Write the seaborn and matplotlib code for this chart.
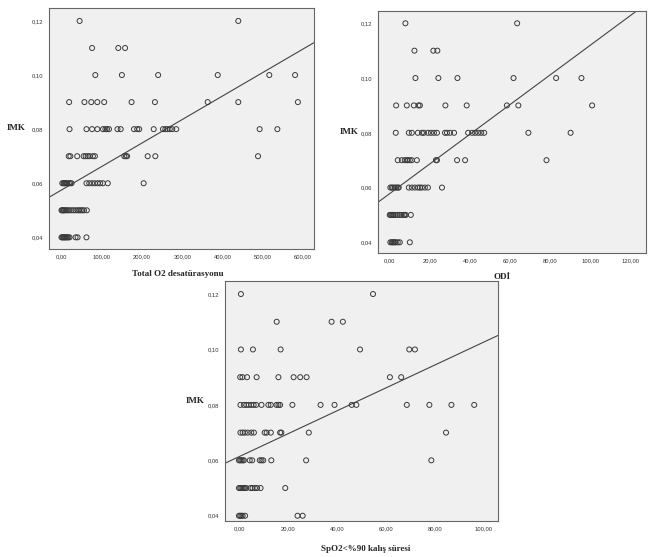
import matplotlib
matplotlib.use("Agg")
import matplotlib.pyplot as plt
import pandas as pd
import seaborn as sns

# IMK levels (rows of points) shared by all three panels
imk_levels = [0.04, 0.05, 0.06, 0.07, 0.08, 0.09, 0.10, 0.11, 0.12]

# Total O2 desaturation values, one list per IMK level
o2_x = [
    [0, 2, 4, 6, 8, 10, 12, 14, 17, 20, 35, 40, 62],
    [0, 2, 4, 6, 9, 12, 16, 20, 25, 30, 35, 40, 44, 48, 52, 56, 63],
    [2, 5, 7, 9, 11, 14, 18, 22, 25, 62, 69, 76, 83, 90, 96, 103, 115, 204],
    [18, 22, 39, 55, 60, 65, 70, 78, 83, 156, 160, 163, 214, 233, 488],
    [20, 62, 76, 89, 103, 109, 113, 118, 139, 147, 180, 188, 193, 229,
     252, 258, 263, 269, 275, 285, 492, 536],
    [19, 57, 74, 89, 106, 174, 232, 363, 439, 587],
    [84, 150, 240, 388, 516, 580],
    [76, 141, 158],
    [45, 439],
]

# ODI values
odi_x = [
    [0.3, 1, 1.5, 2, 2.5, 3, 4, 5, 10],
    [0, 0.5, 1, 1.5, 2, 3, 4, 5, 6, 7, 7.5, 8, 10.5],
    [0.3, 1, 1.7, 2.5, 3.2, 4, 4.5, 9.5, 11, 12.5, 14, 15, 16, 17.5, 19, 26],
    [4, 6, 7.5, 8.5, 9, 10, 11, 13.5, 23, 23.5, 33.5, 37.5, 78],
    [3, 9.5, 11, 14, 16, 17, 19, 20.5, 22, 23.5, 27.5, 28.5, 30, 32,
     39, 41, 42.5, 44, 45.5, 47, 69, 90],
    [3.2, 8.5, 12, 14.3, 15, 27.7, 38.3, 58.3, 64, 100.7],
    [12.8, 24.2, 33.7, 61.6, 82.8, 95.4],
    [12.3, 21.7, 23.7],
    [7.8, 63.4],
]

# SpO2<%90 time values
spo2_x = [
    [0, 0.5, 1, 1.5, 2.5, 23.9, 26],
    [0, 0.5, 1, 1.5, 2, 2.5, 3, 4.7, 5.5, 6.5, 7.4, 8.8, 18.9],
    [0, 0.5, 1, 1.5, 2, 4.4, 5.4, 8.5, 9.2, 9.9, 13.2, 27.4, 78.5],
    [0.6, 1.5, 2.4, 3.6, 5, 6.1, 10.5, 11.3, 13, 16.8, 17.3, 28.5, 84.5],
    [0.6, 2, 3, 4, 5, 6, 7, 9.2, 12, 13, 15.3, 16.1, 16.8, 21.8, 33.3,
     39, 46, 47.9, 68.5, 77.7, 86.7, 96],
    [0.5, 1.4, 3.3, 7.2, 16.1, 22.3, 25, 27.6, 61.6, 66.2],
    [0.8, 5.7, 17, 49.4, 69.5, 71.8],
    [15.4, 37.8, 42.4],
    [0.8, 54.7],
]

# fit lines: (intercept, slope)
o2_fit = (0.0575, 8.69e-5)
odi_fit = (0.0578, 5.43e-4)
spo2_fit = (0.0613, 4.14e-4)

x_labels = ["Total O2 desatürasyonu", "ODİ", "SpO2<%90 kalış süresi"]
x_ticks = [[0, 100, 200, 300, 400, 500, 600],
           [0, 20, 40, 60, 80, 100, 120],
           [0, 20, 40, 60, 80, 100]]
y_ticks = [0.04, 0.06, 0.08, 0.10, 0.12]


def to_frame(rows):
    xs, ys = [], []
    for level, vals in zip(imk_levels, rows):
        xs += vals
        ys += [level] * len(vals)
    return pd.DataFrame({"x": xs, "IMK": ys})


def fmt(v):
    return f"{v:.2f}".replace(".", ",")


sns.set_style("white")
plt.rcParams["font.family"] = ["Liberation Sans", "DejaVu Sans"]

fig = plt.figure(figsize=(6.55, 5.57), dpi=100)

panels = [
    # rect, data, fit, xlim, ylim, ylabel x, xlabel pos
    ([0.0748, 0.553, 0.4046, 0.4327], o2_x, o2_fit, (-31, 627), (0.0357, 0.1248), -0.125, (0.487, -0.104)),
    ([0.5766, 0.5463, 0.4096, 0.434], odi_x, odi_fit, (-6, 127.5), (0.0362, 0.1245), -0.105, (0.463, -0.10)),
    ([0.3435, 0.0646, 0.4164, 0.4309], spo2_x, spo2_fit, (-5.7, 105.6), (0.0381, 0.1247), -0.11, (0.515, -0.117)),
]

label_font = dict(family="Liberation Serif", weight="bold", size=6.5)

for i, (rect, rows, fit, xlim, ylim, ylab_x, xlab_pos) in enumerate(panels):
    ax = fig.add_axes(rect)
    ax.set_facecolor("#f0f0f0")
    df = to_frame(rows)
    sns.scatterplot(data=df, x="x", y="IMK", ax=ax, marker="o", s=13,
                    fc="none", ec="#3a3a3a", linewidth=0.7, zorder=3)
    ax.axline((0, fit[0]), slope=fit[1], color="#444444", lw=0.8, zorder=2)
    ax.set_xlim(*xlim)
    ax.set_ylim(*ylim)
    ax.set_xticks(x_ticks[i])
    ax.set_xticklabels([fmt(t) for t in x_ticks[i]])
    ax.set_yticks(y_ticks)
    ax.set_yticklabels([fmt(t) for t in y_ticks])
    ax.tick_params(direction="out", length=2.5, width=0.6, labelsize=4.2,
                   pad=1.5, colors="#333333")
    for sp in ax.spines.values():
        sp.set_color("#666666")
        sp.set_linewidth(0.8)
    ax.set_ylabel("IMK", rotation=0, ha="center", va="center", fontdict=label_font)
    ax.yaxis.set_label_coords(ylab_x, 0.5)
    ax.set_xlabel(x_labels[i], va="center", fontdict=label_font)
    ax.xaxis.set_label_coords(*xlab_pos)

fig.savefig("out.png", dpi=100)
